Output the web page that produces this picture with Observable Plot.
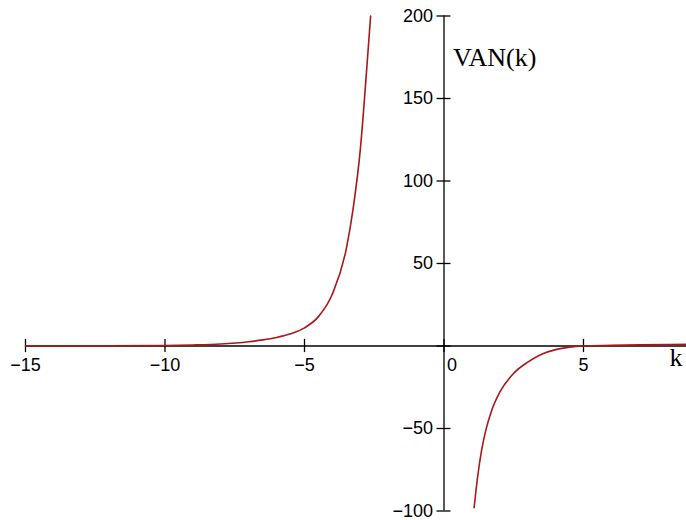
<!DOCTYPE html>
<html>
<head>
<meta charset="utf-8">
<script src="https://cdn.jsdelivr.net/npm/d3@7"></script>
<script src="https://cdn.jsdelivr.net/npm/@observablehq/plot@0.6"></script>
<style>
  html, body { margin: 0; padding: 0; background: #fff; }
  #chart { width: 686px; height: 520px; }
</style>
</head>
<body>
<div id="chart"></div>
<script>
// Tick values
const xTicks = [-15, -10, -5, 0, 5];
const yTicks = [-100, -50, 50, 100, 150, 200];

// Left branch of VAN(k)
const leftK   = [-15, -12, -10, -9, -8, -7, -6.5, -6, -5.5, -5, -4.5, -4, -3.5, -3.25, -3, -2.8, -2.63];
const leftVAN = [0, 0.1, 0.3, 0.6, 1.2, 2.6, 3.7, 5.2, 7.4, 11, 17.8, 31.5, 59, 84, 119, 161, 200];

// Right branch of VAN(k)
const rightK   = [1.08, 1.2, 1.35, 1.5, 1.7, 2.0, 2.5, 3.0, 3.5, 4.0, 4.5, 5, 6, 7, 8.7];
const rightVAN = [-98, -80, -63, -51, -39.5, -28, -16.5, -9.8, -5, -2.2, -0.7, 0, 0.4, 0.7, 1.0];

const left = leftK.map((k, i) => ({k, v: leftVAN[i]}));
const right = rightK.map((k, i) => ({k, v: rightVAN[i]}));

const fmt = d => d < 0 ? "\u2212" + Math.abs(d) : String(d);
const numFont = "Liberation Sans";
const serif = "Liberation Serif";
const curveColor = "#a81818";

const chart = Plot.plot({
  width: 686,
  height: 520,
  marginTop: 0, marginRight: 0, marginBottom: 0, marginLeft: 0,
  x: {domain: [-15.896, 8.692], range: [0, 686], axis: null},
  y: {domain: [-105.76, 209.39], range: [520, 0], axis: null},
  style: {background: "#fff"},
  marks: [
    // axes lines
    Plot.ruleY([0], {x1: -15, x2: 8.692, stroke: "#000", strokeWidth: 1.3}),
    Plot.ruleX([0], {y1: -100, y2: 200, stroke: "#000", strokeWidth: 1.3}),
    // tick marks
    Plot.ruleX(xTicks, {x: d => d, y1: -4, y2: 4, stroke: "#000", strokeWidth: 1.3}),
    Plot.ruleY([...yTicks, 0], {y: d => d, x1: -0.25, x2: 0.25, stroke: "#000", strokeWidth: 1.3}),
    // curves
    Plot.line(left, {x: "k", y: "v", stroke: curveColor, strokeWidth: 1.6, curve: "monotone-x"}),
    Plot.line(right, {x: "k", y: "v", stroke: curveColor, strokeWidth: 1.6, curve: "monotone-x"}),
    // x tick labels
    Plot.text(xTicks.filter(d => d !== 0), {x: d => d, y: 0, text: fmt, dy: 19, fontSize: 18, fontFamily: numFont, fill: "#000"}),
    Plot.text([0], {x: d => d, y: 0, text: fmt, dy: 19, dx: 3, textAnchor: "start", fontSize: 18, fontFamily: numFont, fill: "#000"}),
    // y tick labels
    Plot.text(yTicks, {x: 0, y: d => d, text: fmt, dx: -11, textAnchor: "end", fontSize: 18, fontFamily: numFont, fill: "#000"}),
    // axis titles
    Plot.text(["VAN(k)"], {x: 0, y: 200, text: d => d, dx: 9, dy: 42, textAnchor: "start", fontSize: 26, fontFamily: serif, fill: "#000"}),
    Plot.text(["k"], {x: 8.692, y: 0, text: d => d, dx: -4, dy: 12, textAnchor: "end", fontSize: 26, fontFamily: serif, fill: "#000"})
  ]
});
document.getElementById("chart").appendChild(chart);
</script>
</body>
</html>
